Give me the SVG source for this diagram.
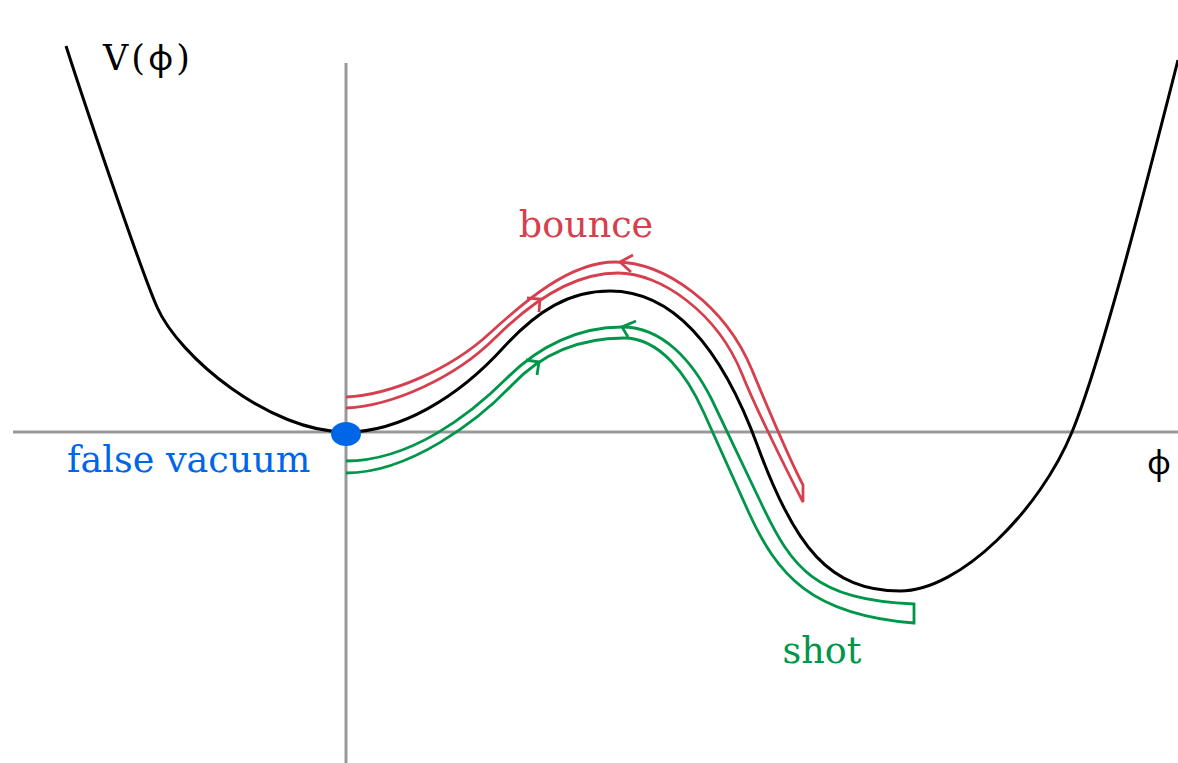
<svg xmlns="http://www.w3.org/2000/svg" width="1178" height="763" viewBox="0 0 1178 763">
<style>
.axis{stroke:#999999;stroke-width:3;fill:none}
.curve{stroke:#000000;stroke-width:3;fill:none}
.red{stroke:#d6404e;stroke-width:2.8;fill:none;stroke-linejoin:miter}
.green{stroke:#00964a;stroke-width:2.8;fill:none;stroke-linejoin:miter}
.lbl{font-family:"DejaVu Serif","Liberation Serif",serif;font-size:36.5px}
.math{font-family:"DejaVu Serif","Liberation Serif",serif;font-size:35px}
.phi{font-family:"Noto Sans","DejaVu Sans",sans-serif}
</style>
<rect width="1178" height="763" fill="#ffffff"/>
<g id="axes">
<line class="axis" x1="13" y1="432" x2="1178" y2="432"/>
<line class="axis" x1="346" y1="63" x2="346" y2="763"/>
</g>
<g id="potential">
<path class="curve" d="M66,46 C85,105 140,268 157,307 C179,357 270,432 346,432 C400,432 458,397.5 503,348 C538,309.5 570,291 610,291 C670,291 720,343 758,447 C795,548 830,591 900,591 C960,591 1040,510 1072,432 C1102,359 1150,170 1178,60"/>
</g>
<g id="connectors">
<g id="bounce-path">
<path class="red" d="M346,397 C390,395 450,370 490,333 C525,301 570,262 615,262 C665,262 725,305 752,370 C767,406 788,456.5 803,485 L803,502 C790,477 756,409 742,374 C717,312 660,273 618,273 C572,273 530,303 495,338 C455,378 392,406 346,408"/>
<polyline class="red" points="527,298 540,299 539,312"/>
<polyline class="red" points="633,255 620,262 631,272"/>
</g>
<g id="shot-path">
<path class="green" d="M346,461 C410,461 470,415 507,378 C540,345 580,327 622,327 C662,327 692,360 712,400 L762,505 C792,568 815,600 914,604 L914,623 C810,615 777,574 749,513 L704,413 C687,375 660,338 624,338 C583,338 545,350 512,385 C479,420 410,473 346,473"/>
<polyline class="green" points="526,360 539,362 537,375"/>
<polyline class="green" points="636,321 622,327 628,337"/>
</g>
</g>
<g id="false-vacuum">
<ellipse cx="346" cy="434" rx="15" ry="12" fill="#0066e8"/>
<text class="lbl" x="67" y="472" fill="#0066e8">false vacuum</text>
</g>
<g id="labels">
<text class="math" x="103" y="70" fill="#000000" textLength="87" lengthAdjust="spacing">V(<tspan class="phi">φ</tspan>)</text>
<text class="phi" x="1147" y="474" font-size="33" fill="#000000">φ</text>
<text class="lbl" x="586" y="237" fill="#d6404e" text-anchor="middle">bounce</text>
<text class="lbl" x="822" y="663" fill="#00964a" text-anchor="middle">shot</text>
</g>
</svg>
